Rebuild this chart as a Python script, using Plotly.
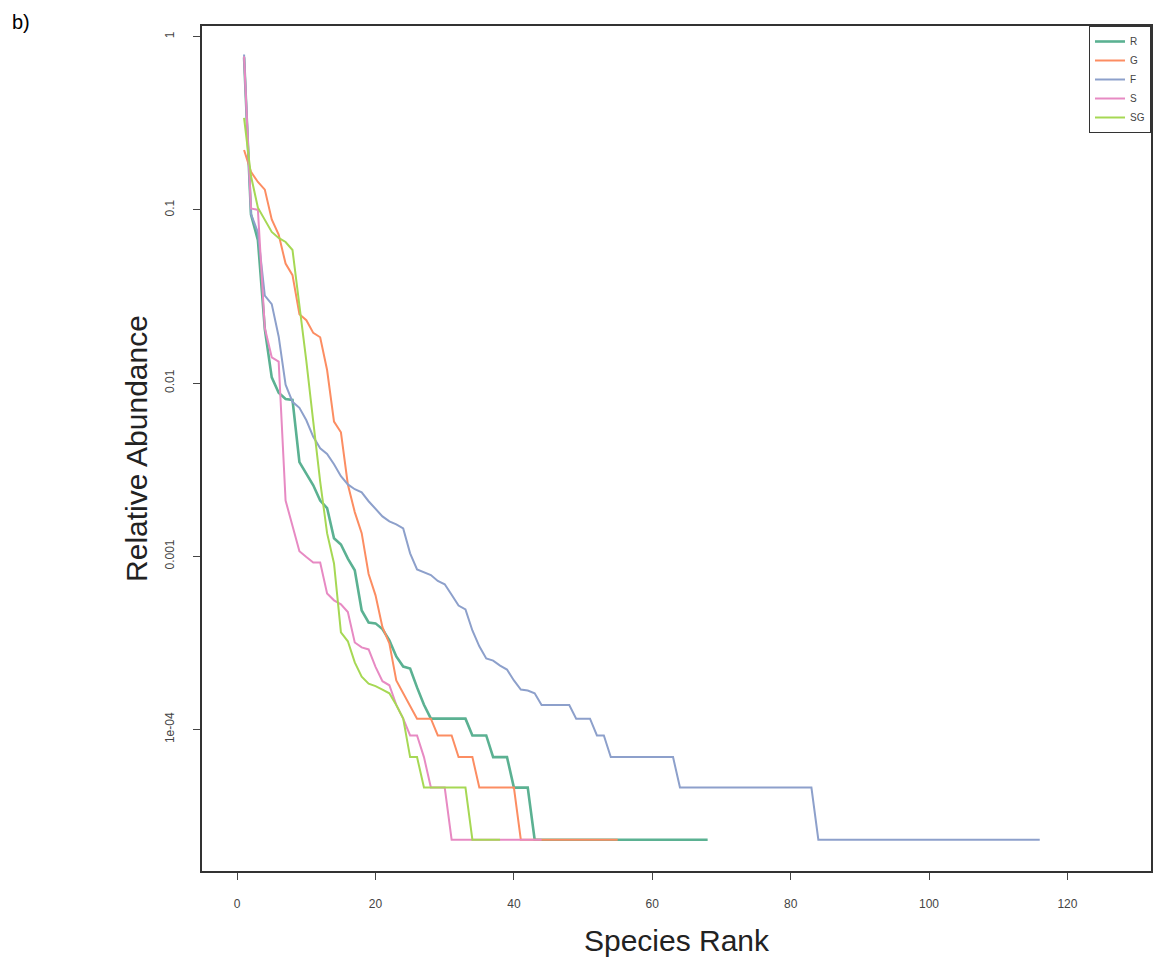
import plotly.graph_objects as go

# Relative abundance by species rank
R_vals = [0.76, 0.094, 0.067, 0.0205, 0.0108, 0.0088, 0.0081, 0.0080, 0.0035, 0.0030,
          0.00257, 0.0021, 0.0019, 0.00127, 0.00117, 0.00097, 0.00083, 0.000487, 0.000415, 0.00041,
          0.00038, 0.000327, 0.000264, 0.000231, 0.000225, 0.000175, 0.000139,
          0.0001155, 0.0001155, 0.0001155, 0.0001155, 0.0001155, 0.0001155,
          0.0000924, 0.0000924, 0.0000924,
          0.0000693, 0.0000693, 0.0000693,
          0.0000462, 0.0000462, 0.0000462,
          0.0000231, 0.0000231, 0.0000231, 0.0000231, 0.0000231, 0.0000231, 0.0000231, 0.0000231,
          0.0000231, 0.0000231, 0.0000231, 0.0000231, 0.0000231, 0.0000231, 0.0000231, 0.0000231,
          0.0000231, 0.0000231, 0.0000231, 0.0000231, 0.0000231, 0.0000231, 0.0000231, 0.0000231,
          0.0000231, 0.0000231]

G_vals = [0.222, 0.166, 0.145, 0.131, 0.088, 0.072, 0.049, 0.042, 0.025, 0.0231,
          0.0195, 0.0184, 0.0119, 0.0060, 0.0052, 0.0026, 0.0018, 0.00136, 0.00079, 0.000595,
          0.00039, 0.000314, 0.000192, 0.000162, 0.000139,
          0.0001155, 0.0001155, 0.0001155,
          0.0000924, 0.0000924, 0.0000924,
          0.0000693, 0.0000693, 0.0000693,
          0.0000462, 0.0000462, 0.0000462, 0.0000462, 0.0000462, 0.0000462,
          0.0000231, 0.0000231, 0.0000231, 0.0000231, 0.0000231, 0.0000231, 0.0000231, 0.0000231,
          0.0000231, 0.0000231, 0.0000231, 0.0000231, 0.0000231, 0.0000231, 0.0000231]

F_vals = [0.79, 0.095, 0.074, 0.032, 0.0286, 0.0186, 0.0098, 0.0078, 0.0072, 0.0061,
          0.0049, 0.0042, 0.0039, 0.0034, 0.0029, 0.0026, 0.00244, 0.00234, 0.00208, 0.00187,
          0.0017, 0.00159, 0.00153, 0.00145, 0.00104, 0.00084, 0.00081, 0.00078, 0.00072, 0.00069,
          0.00060, 0.00052, 0.000494, 0.000373, 0.000302, 0.000257, 0.00025, 0.000234, 0.000222, 0.000192,
          0.00017, 0.000168, 0.000162,
          0.0001386, 0.0001386, 0.0001386, 0.0001386, 0.0001386,
          0.0001155, 0.0001155, 0.0001155,
          0.0000924, 0.0000924,
          0.0000693, 0.0000693, 0.0000693, 0.0000693, 0.0000693, 0.0000693, 0.0000693, 0.0000693,
          0.0000693, 0.0000693,
          0.0000462, 0.0000462, 0.0000462, 0.0000462, 0.0000462, 0.0000462, 0.0000462, 0.0000462,
          0.0000462, 0.0000462, 0.0000462, 0.0000462, 0.0000462, 0.0000462, 0.0000462, 0.0000462,
          0.0000462, 0.0000462, 0.0000462, 0.0000462,
          0.0000231, 0.0000231, 0.0000231, 0.0000231, 0.0000231, 0.0000231, 0.0000231, 0.0000231,
          0.0000231, 0.0000231, 0.0000231, 0.0000231, 0.0000231, 0.0000231, 0.0000231, 0.0000231,
          0.0000231, 0.0000231, 0.0000231, 0.0000231, 0.0000231, 0.0000231, 0.0000231, 0.0000231,
          0.0000231, 0.0000231, 0.0000231, 0.0000231, 0.0000231, 0.0000231, 0.0000231, 0.0000231,
          0.0000231]

S_vals = [0.77, 0.102, 0.100, 0.0208, 0.0141, 0.0133, 0.0021, 0.00151, 0.00107, 0.00099,
          0.00092, 0.00092, 0.00061, 0.000557, 0.000528, 0.000477, 0.000318, 0.000298, 0.00029, 0.00023,
          0.00019, 0.00018, 0.0001386, 0.0001155,
          0.0000924, 0.0000924,
          0.0000693,
          0.0000462, 0.0000462, 0.0000462,
          0.0000231, 0.0000231, 0.0000231, 0.0000231, 0.0000231, 0.0000231, 0.0000231,
          0.0000231, 0.0000231, 0.0000231, 0.0000231, 0.0000231, 0.0000231, 0.0000231]

SG_vals = [0.34, 0.157, 0.103, 0.0875, 0.0746, 0.0689, 0.0653, 0.0587, 0.029, 0.0134,
           0.006, 0.0027, 0.00136, 0.00091, 0.000364, 0.000323, 0.000244, 0.000202, 0.000184, 0.000178,
           0.00017, 0.0001617, 0.0001386, 0.0001155,
           0.0000693, 0.0000693,
           0.0000462, 0.0000462, 0.0000462, 0.0000462, 0.0000462, 0.0000462, 0.0000462,
           0.0000231, 0.0000231, 0.0000231, 0.0000231, 0.0000231]

series_names = ["R", "G", "F", "S", "SG"]
series_vals = [R_vals, G_vals, F_vals, S_vals, SG_vals]
series_colors = ["#5bb192", "#fc8d62", "#8da0cb", "#e78ac3", "#a6d854"]
series_widths = [2.6, 2.0, 2.0, 2.0, 2.0]

y_tickvals = [1, 0.1, 0.01, 0.001, 0.0001]
y_ticktext = ["1", "0.1", "0.01", "0.001", "1e-04"]
x_tickvals = [0, 20, 40, 60, 80, 100, 120]

fig = go.Figure()
for name, vals, col, w in zip(series_names, series_vals, series_colors, series_widths):
    fig.add_trace(go.Scatter(
        x=list(range(1, len(vals) + 1)), y=vals, mode="lines", name=name,
        line=dict(color=col, width=w)))

font_family = "Liberation Sans, Arial, Helvetica, sans-serif"

fig.update_layout(
    width=1163, height=959,
    margin=dict(l=202, r=12, t=26, b=88),
    paper_bgcolor="white", plot_bgcolor="white",
    font=dict(family=font_family, color="#333"),
    showlegend=True,
    legend=dict(x=1, y=1, xanchor="right", yanchor="top",
                bgcolor="white", bordercolor="#333", borderwidth=1,
                font=dict(size=10, color="#444"),
                tracegroupgap=0, itemwidth=30),
    xaxis=dict(range=[-5.08, 132.08], tickvals=x_tickvals, showgrid=False, zeroline=False,
               showline=True, linecolor="#333", linewidth=2, mirror=True, automargin=False,
               ticks="outside", ticklen=7, tickcolor="#444", tickwidth=1,
               tickfont=dict(size=12, color="#444"), ticklabelstandoff=14,
               title=dict(text="Species Rank", font=dict(size=30, color="#222"), standoff=20)),
    yaxis=dict(type="log", range=[-4.817, 0.062], tickvals=y_tickvals, ticktext=y_ticktext,
               showgrid=False, zeroline=False, automargin=False,
               showline=True, linecolor="#333", linewidth=2, mirror=True,
               ticks="outside", ticklen=7, tickcolor="#444", tickwidth=1,
               tickangle=-90, tickfont=dict(size=12, color="#444"), ticklabelstandoff=14,
               title=dict(text="Relative Abundance", font=dict(size=30, color="#222"), standoff=7)),
    annotations=[dict(text="b)", xref="paper", yref="paper", x=-0.2023, y=1.005,
                      xanchor="left", yanchor="middle", showarrow=False,
                      font=dict(size=20, color="black", family=font_family))],
)

fig.write_html("out.html")
